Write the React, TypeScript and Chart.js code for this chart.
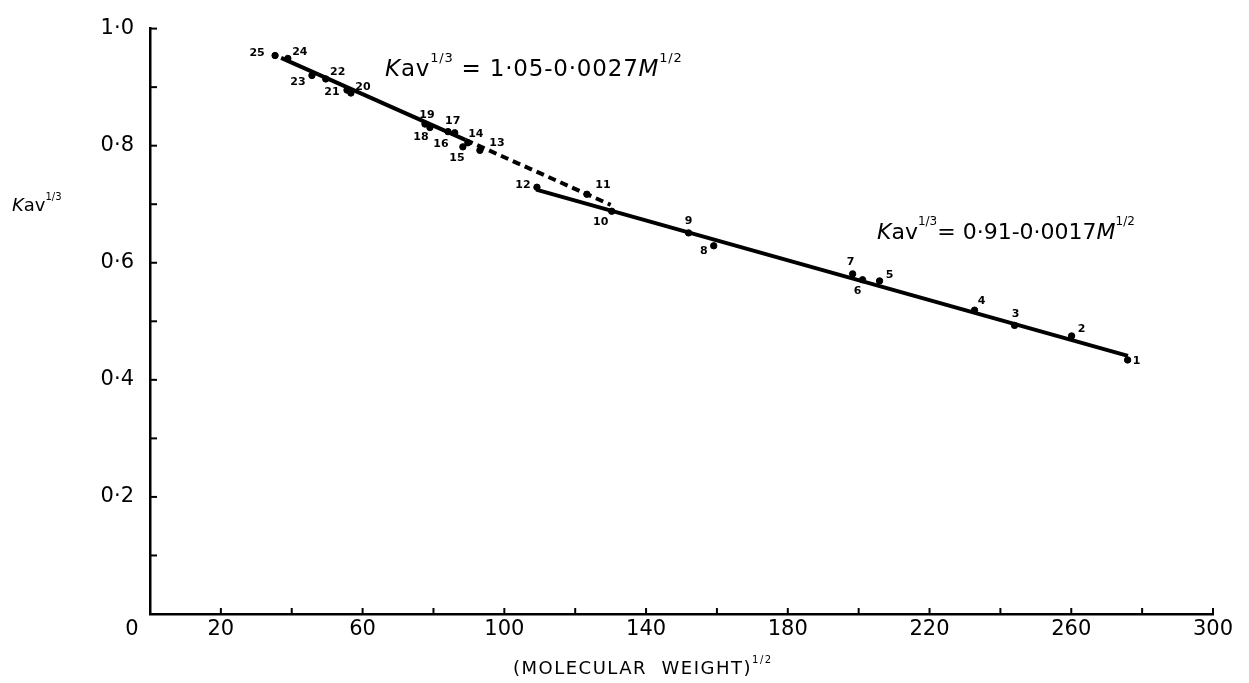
import React, { useEffect, useRef } from "react";
import { Chart, registerables } from "chart.js";

Chart.register(...registerables);

// ---- data ----
const proteinIds = ["1","2","3","4","5","6","7","8","9","10","11","12","13","14","15","16","17","18","19","20","21","22","23","24","25"];
const sqrtMW = [275.9, 260.1, 244.0, 232.7, 205.9, 201.1, 198.3, 159.1, 152.0, 130.3, 123.3, 109.2, 93.1, 89.7, 88.3, 84.1, 86.0, 79.0, 77.6, 56.7, 55.6, 49.6, 45.7, 38.9, 35.3];
const kavCubeRoot = [0.434, 0.475, 0.493, 0.519, 0.569, 0.571, 0.581, 0.629, 0.651, 0.688, 0.717, 0.729, 0.792, 0.805, 0.798, 0.824, 0.822, 0.831, 0.837, 0.890, 0.895, 0.914, 0.920, 0.949, 0.954];

// fitted lines (end points)
const upperSolidX = [37, 89];
const upperSolidY = [0.950, 0.810];
const upperDashX = [89, 130];
const upperDashY = [0.810, 0.699];
const lowerFitX = [109, 276];
const lowerFitY = [0.725, 0.441];

// axis ticks
const xMinorTicks = [20, 40, 60, 80, 100, 120, 140, 160, 180, 200, 220, 240, 260, 280, 300];
const xTickLabels = ["20", "60", "100", "140", "180", "220", "260", "300"];
const yMinorTicks = [0.1, 0.2, 0.3, 0.4, 0.5, 0.6, 0.7, 0.8, 0.9, 1.0];
const yTickLabels = ["0·2", "0·4", "0·6", "0·8", "1·0"];

// label placement offsets (px) for point numbers
const labelOffsets: [number, number][] = [
  [9, 1], [10, -7], [1, -11], [7, -9], [10, -6], [-5, 11], [-2, -12], [-10, 5], [0, -12], [-11, 11],
  [16, -9], [-14, -2], [17, -7], [8, -9], [-6, 11], [-7, 13], [-2, -12], [-9, 10], [2, -9], [12, -6],
  [-15, 2], [12, -7], [-14, 7], [12, -6], [-18, -2],
];

const FONT = "'DejaVu Sans', sans-serif";

type Run = { t: string; sup?: boolean; it?: boolean };

function drawRuns(ctx: CanvasRenderingContext2D, x: number, y: number, runs: Run[], size: number, spacing = 0) {
  let cx = x;
  ctx.textBaseline = "middle";
  ctx.textAlign = "left";
  (ctx as any).letterSpacing = `${spacing}px`;
  for (const r of runs) {
    const s = r.sup ? Math.round(size * 0.55) : size;
    ctx.font = `${r.it ? "italic " : ""}${s}px ${FONT}`;
    const yy = r.sup ? y - size * 0.5 : y;
    ctx.fillText(r.t, cx, yy);
    cx += ctx.measureText(r.t).width;
  }
  (ctx as any).letterSpacing = "0px";
}

const decorPlugin = {
  id: "decor",
  afterDraw(chart: any) {
    const ctx: CanvasRenderingContext2D = chart.ctx;
    const xs = chart.scales.x;
    const ys = chart.scales.y;
    const x0 = xs.getPixelForValue(0);
    const y0 = ys.getPixelForValue(0);
    ctx.save();
    ctx.strokeStyle = "#000";
    ctx.lineWidth = 2;
    // inward tick marks
    for (const v of xMinorTicks) {
      const px = xs.getPixelForValue(v);
      ctx.beginPath();
      ctx.moveTo(px, y0);
      ctx.lineTo(px, y0 - 6);
      ctx.stroke();
    }
    for (const v of yMinorTicks) {
      const py = ys.getPixelForValue(v);
      ctx.beginPath();
      ctx.moveTo(x0, py);
      ctx.lineTo(x0 + 7, py);
      ctx.stroke();
    }
    ctx.fillStyle = "#000";
    // origin label
    ctx.font = `21px ${FONT}`;
    ctx.textAlign = "center";
    ctx.textBaseline = "middle";
    ctx.fillText("0", x0 - 18, y0 + 16);

    // point numbers
    const meta = chart.getDatasetMeta(0);
    ctx.font = `bold 11px ${FONT}`;
    meta.data.forEach((pt: any, i: number) => {
      const [dx, dy] = labelOffsets[i];
      ctx.fillText(proteinIds[i], pt.x + dx, pt.y + dy);
    });

    // axis titles
    drawRuns(ctx, 12, 206, [{ t: "K", it: true }, { t: "av" }, { t: "1/3", sup: true }], 18);
    drawRuns(ctx, 513, 669, [{ t: "(MOLECULAR  WEIGHT)" }, { t: "1/2", sup: true }], 18, 1.5);

    // equations
    drawRuns(ctx, 385, 70, [
      { t: "K", it: true }, { t: "av" }, { t: "1/3", sup: true }, { t: " = 1·05-0·0027" }, { t: "M", it: true }, { t: "1/2", sup: true },
    ], 23, 0.8);
    drawRuns(ctx, 877, 233, [
      { t: "K", it: true }, { t: "av" }, { t: "1/3", sup: true }, { t: "= 0·91-0·0017" }, { t: "M", it: true }, { t: "1/2", sup: true },
    ], 22);
    ctx.restore();
  },
};

export default function App() {
  const ref = useRef<HTMLCanvasElement | null>(null);
  useEffect(() => {
    if (!ref.current) return;
    const pts = sqrtMW.map((x, i) => ({ x, y: kavCubeRoot[i] }));
    const seg = (xa: number[], ya: number[]) => xa.map((x, i) => ({ x, y: ya[i] }));
    const chart = new Chart(ref.current, {
      type: "scatter",
      data: {
        datasets: [
          { data: pts, backgroundColor: "#000", borderColor: "#000", pointRadius: 3.2, pointHoverRadius: 3.2 },
          { data: seg(upperSolidX, upperSolidY), showLine: true, borderColor: "#000", borderWidth: 4, pointRadius: 0 },
          { data: seg(upperDashX, upperDashY), showLine: true, borderColor: "#000", borderWidth: 4, borderDash: [8, 5], pointRadius: 0 },
          { data: seg(lowerFitX, lowerFitY), showLine: true, borderColor: "#000", borderWidth: 4, pointRadius: 0 },
        ],
      },
      options: {
        animation: false,
        responsive: false,
        maintainAspectRatio: false,
        devicePixelRatio: 1,
        layout: { padding: { top: 24, right: 36, left: 0, bottom: 0 } },
        plugins: { legend: { display: false }, tooltip: { enabled: false } },
        scales: {
          x: {
            type: "linear",
            min: 0,
            max: 300,
            afterFit: (s: any) => { s.height = 69; },
            grid: { display: false, drawTicks: false },
            border: { display: true, color: "#000", width: 2.5 },
            ticks: {
              stepSize: 20,
              autoSkip: false,
              maxRotation: 0,
              padding: 3,
              color: "#000",
              font: { family: FONT, size: 21 },
              callback: (v: any) => {
                const s = String(Math.round(Number(v)));
                return xTickLabels.includes(s) ? s : "";
              },
            },
          },
          y: {
            type: "linear",
            min: 0,
            max: 1,
            afterFit: (s: any) => { s.width = 150; },
            grid: { display: false, drawTicks: false },
            border: { display: true, color: "#000", width: 2.5 },
            ticks: {
              stepSize: 0.1,
              autoSkip: false,
              padding: 16,
              color: "#000",
              font: { family: FONT, size: 21 },
              callback: (v: any) => {
                const s = (Math.round(Number(v) * 10) / 10).toFixed(1).replace(".", "·");
                return yTickLabels.includes(s) ? s : "";
              },
            },
          },
        },
      },
      plugins: [decorPlugin],
    });
    return () => chart.destroy();
  }, []);
  return (
    <div style={{ position: "absolute", left: 0, top: 0, width: 1249, height: 683, background: "#fff" }}>
      <canvas ref={ref} width={1249} height={683} style={{ width: 1249, height: 683 }} />
    </div>
  );
}
